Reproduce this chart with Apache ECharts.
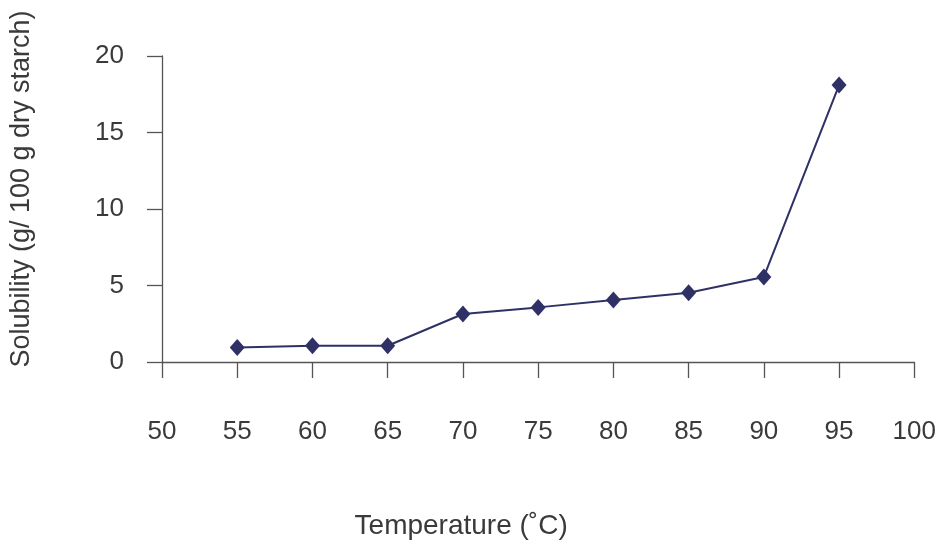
<!DOCTYPE html>
<html>
<head>
<meta charset="utf-8">
<script src="https://cdn.jsdelivr.net/npm/echarts@6/dist/echarts.min.js"></script>
<style>html,body{margin:0;padding:0;background:#fff}#c{width:939px;height:545px}</style>
</head>
<body>
<div id="c"></div>
<script>
const temperatures = [55, 60, 65, 70, 75, 80, 85, 90, 95];
const solubility = [0.95, 1.06, 1.06, 3.14, 3.57, 4.05, 4.52, 5.56, 18.1];
const xTitle = 'Temperature (\u02DAC)';
const yTitle = 'Solubility (g/ 100 g dry starch)';

const chart = echarts.init(document.getElementById('c'));
const txt = '#3a3a3a';
const axisCol = '#555';
chart.setOption({
  backgroundColor: '#fff',
  animation: false,
  grid: { left: 162, right: 16, top: 56, bottom: 182, containLabel: false },
  xAxis: {
    type: 'value', min: 50, max: 100, interval: 5,
    name: xTitle, nameLocation: 'middle', nameGap: 150,
    nameTextStyle: { fontFamily: 'Liberation Sans', fontSize: 28, color: txt, padding: [0, 154, 0, 0] },
    axisLine: { show: true, onZero: false, lineStyle: { color: axisCol, width: 1.3 } },
    axisTick: { show: true, inside: false, length: 16, lineStyle: { color: axisCol, width: 1.3 } },
    axisLabel: { margin: 57, fontFamily: 'Liberation Sans', fontSize: 26, color: txt },
    splitLine: { show: false }
  },
  yAxis: {
    type: 'value', min: 0, max: 20, interval: 5,
    name: yTitle, nameLocation: 'middle', nameGap: 127,
    nameTextStyle: { fontFamily: 'Liberation Sans', fontSize: 27, color: txt, padding: [0, 0, 0, 40] },
    axisLine: { show: true, lineStyle: { color: axisCol, width: 1.3 } },
    axisTick: { show: true, inside: false, length: 15, lineStyle: { color: axisCol, width: 1.3 } },
    axisLabel: { margin: 38, fontFamily: 'Liberation Sans', fontSize: 26, color: txt },
    splitLine: { show: false }
  },
  series: [{
    type: 'line',
    data: temperatures.map((t, i) => [t, solubility[i]]),
    symbol: 'diamond', symbolSize: [15, 17],
    itemStyle: { color: '#2f3166' },
    lineStyle: { color: '#2f3166', width: 2 }
  }]
});
</script>
</body>
</html>
